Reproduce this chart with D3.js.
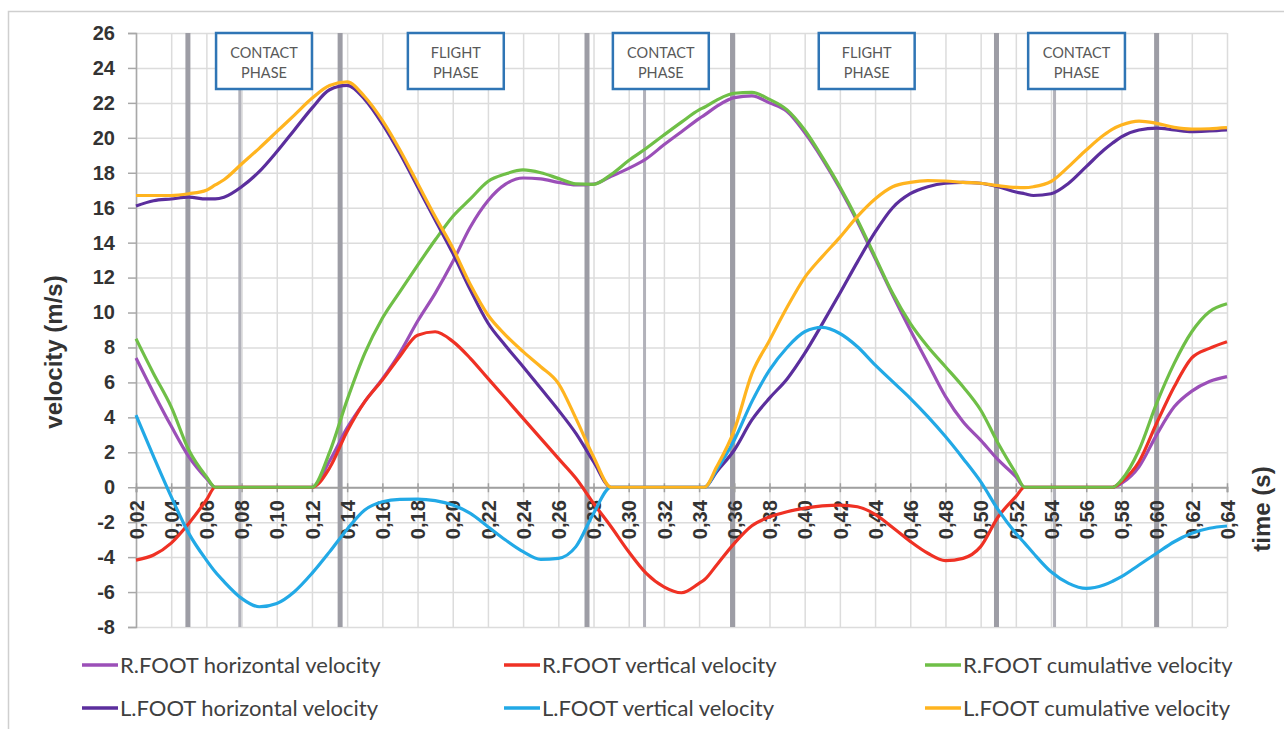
<!DOCTYPE html>
<html>
<head>
<meta charset="utf-8">
<script src="https://cdn.jsdelivr.net/npm/d3@7"></script>
<style>
  body { margin: 0; background: #fff; }
  svg { display: block; }
</style>
</head>
<body>
<svg id="chart" width="1284" height="729"></svg>
<script>
// Sample times (s)
const time = [0.02,0.03,0.04,0.05,0.06,0.065,0.07,0.08,0.09,0.10,
  0.11,0.12,0.13,0.14,0.15,0.16,0.17,0.18,0.19,0.20,
  0.21,0.22,0.23,0.24,0.25,0.26,0.27,0.28,0.29,0.30,
  0.31,0.32,0.33,0.34,0.343,0.35,0.36,0.37,0.38,0.39,
  0.40,0.41,0.42,0.43,0.44,0.45,0.46,0.47,0.48,0.49,
  0.50,0.51,0.52,0.525,0.53,0.54,0.55,0.56,0.57,0.575,
  0.58,0.59,0.60,0.61,0.62,0.63,0.64];

// Velocities (m/s)
const rFootHorizontal = [7.4,5.4,3.5,1.75,0.5,0,0,0,0,0,
  0,0,1.5,3.4,4.9,6.2,7.7,9.5,11.1,12.9,
  14.9,16.4,17.35,17.7,17.65,17.45,17.3,17.35,17.8,18.25,
  18.8,19.6,20.35,21.1,21.3,21.8,22.3,22.4,22.0,21.5,
  20.3,18.8,17.1,15.2,13.1,11.0,9.0,7.1,5.2,3.75,
  2.7,1.56,0.6,0,0,0,0,0,0,0,
  0.22,1.17,3.0,4.6,5.5,6.05,6.33];

const rFootVertical = [-4.17,-3.88,-3.2,-2.07,-0.73,0,0,0,0,0,
  0,0,1.1,3.2,4.9,6.14,7.5,8.7,8.9,8.35,
  7.38,6.23,5.09,3.94,2.8,1.65,0.51,-0.92,-2.26,-3.69,
  -4.93,-5.7,-6.04,-5.5,-5.3,-4.45,-3.21,-2.2,-1.7,-1.4,
  -1.2,-1.07,-1.02,-1.12,-1.55,-2.3,-3.1,-3.78,-4.2,-4.07,
  -3.4,-1.69,-0.54,0,0,0,0,0,0,0,
  0.32,1.46,3.66,5.75,7.4,7.95,8.33];

const rFootCumulative = [8.5,6.5,4.6,2.13,0.6,0,0,0,0,0,
  0,0,2.0,5.0,7.66,9.67,11.2,12.7,14.15,15.5,
  16.5,17.5,17.93,18.16,18.0,17.68,17.36,17.34,17.9,18.7,
  19.4,20.16,20.9,21.6,21.75,22.16,22.55,22.6,22.2,21.6,
  20.45,18.9,17.2,15.3,13.2,11.1,9.38,8.04,6.9,5.75,
  4.42,2.5,0.8,0,0,0,0,0,0,0,
  0.41,2.13,4.8,7.09,8.9,10.05,10.5];

const lFootHorizontal = [16.1,16.4,16.5,16.6,16.5,16.5,16.6,17.2,18.06,19.2,
  20.45,21.7,22.75,23.0,22.2,20.8,19.1,17.2,15.3,13.4,
  11.3,9.4,8.1,6.9,5.66,4.42,3.08,1.46,0,0,
  0,0,0,0,0,0.89,2.13,3.85,5.1,6.2,
  7.66,9.35,11.1,12.9,14.6,16.0,16.8,17.2,17.4,17.45,
  17.4,17.2,16.9,16.8,16.7,16.8,17.4,18.35,19.3,19.7,
  20.06,20.45,20.55,20.45,20.35,20.39,20.45];

const lFootVertical = [4.13,1.75,-0.54,-2.64,-4.17,-4.84,-5.4,-6.36,-6.84,-6.65,
  -5.98,-4.93,-3.7,-2.4,-1.3,-0.83,-0.69,-0.68,-0.77,-1.02,
  -1.5,-2.26,-3.02,-3.69,-4.13,-4.07,-3.4,-1.5,0,0,
  0,0,0,0,0,1.0,2.7,4.9,6.7,8.0,
  8.9,9.15,8.8,8.04,7.0,6.04,5.09,4.04,2.9,1.65,
  0.32,-1.3,-2.64,-3.2,-3.78,-4.84,-5.5,-5.79,-5.6,-5.38,
  -5.12,-4.45,-3.78,-3.12,-2.64,-2.35,-2.22];

const lFootCumulative = [16.7,16.7,16.7,16.8,17.0,17.3,17.6,18.5,19.4,20.35,
  21.3,22.26,23.0,23.2,22.35,21.0,19.3,17.4,15.5,13.7,
  11.6,9.86,8.71,7.76,6.9,5.95,3.94,1.75,0,0,
  0,0,0,0,0,1.17,3.27,6.5,8.4,10.3,
  12.0,13.2,14.3,15.5,16.5,17.2,17.45,17.55,17.53,17.45,
  17.4,17.26,17.16,17.15,17.2,17.5,18.35,19.3,20.16,20.5,
  20.73,20.96,20.83,20.6,20.5,20.52,20.58];

// Axis ticks
const yTickValues = [-8,-6,-4,-2,0,2,4,6,8,10,12,14,16,18,20,22,24,26];
const xTickValues = [0.02,0.04,0.06,0.08,0.10,0.12,0.14,0.16,0.18,0.20,
  0.22,0.24,0.26,0.28,0.30,0.32,0.34,0.36,0.38,0.40,
  0.42,0.44,0.46,0.48,0.50,0.52,0.54,0.56,0.58,0.60,0.62,0.64];

// Event markers (s): foot strike / toe-off and mid-contact
const eventTimes = [0.0495,0.136,0.2763,0.359,0.509,0.600];
const midContactTimes = [0.079,0.309,0.542];

// Phase annotations
const phaseNames = ["CONTACT","FLIGHT","CONTACT","FLIGHT","CONTACT"];
const phaseStart = [0.0655,0.1745,0.291,0.408,0.527];
const phaseEnd   = [0.12,0.229,0.3455,0.4625,0.582];

const series = [
  { name: "R.FOOT horizontal velocity", values: rFootHorizontal, color: "#9b4fb8" },
  { name: "R.FOOT vertical velocity",   values: rFootVertical,   color: "#ef3124" },
  { name: "R.FOOT cumulative velocity", values: rFootCumulative, color: "#6fbf47" },
  { name: "L.FOOT horizontal velocity", values: lFootHorizontal, color: "#5b2e9d" },
  { name: "L.FOOT vertical velocity",   values: lFootVertical,   color: "#22a9e6" },
  { name: "L.FOOT cumulative velocity", values: lFootCumulative, color: "#ffb41f" }
];

const svg = d3.select("#chart");
const plot = { left: 136, right: 1227, top: 33, bottom: 627 };

const x = d3.scaleLinear().domain([0.02, 0.64]).range([plot.left, plot.right]);
const y = d3.scaleLinear().domain([-8, 26]).range([plot.bottom, plot.top]);

// Outer frame
svg.append("path")
  .attr("d", "M8.5,729 V11.5 H1284")
  .attr("fill", "none").attr("stroke", "#cfcfcf").attr("stroke-width", 1.5);

// Gridlines
svg.append("g")
  .attr("transform", `translate(${plot.left},0)`)
  .call(d3.axisLeft(y).tickValues(yTickValues).tickSize(-(plot.right - plot.left)).tickFormat(""))
  .call(g => g.select(".domain").remove())
  .call(g => g.selectAll("line").attr("stroke", "#dcdcdc").attr("stroke-width", 1.5));

svg.append("g")
  .attr("transform", `translate(0,${plot.bottom})`)
  .call(d3.axisBottom(x).tickValues(xTickValues).tickSize(-(plot.bottom - plot.top)).tickFormat(""))
  .call(g => g.select(".domain").remove())
  .call(g => g.selectAll("line").attr("stroke", "#dcdcdc").attr("stroke-width", 1.5));

// Event markers
svg.append("g").selectAll("line").data(eventTimes).join("line")
  .attr("x1", d => x(d)).attr("x2", d => x(d))
  .attr("y1", plot.top).attr("y2", plot.bottom)
  .attr("stroke", "#9d9da5").attr("stroke-width", 5);

const boxTop = y(26);
const boxHeight = 56;
svg.append("g").selectAll("line").data(midContactTimes).join("line")
  .attr("x1", d => x(d)).attr("x2", d => x(d))
  .attr("y1", boxTop + boxHeight).attr("y2", plot.bottom)
  .attr("stroke", "#b2b2ba").attr("stroke-width", 3);

// Y axis
const yAxis = svg.append("g")
  .attr("transform", `translate(${plot.left},0)`)
  .call(d3.axisLeft(y).tickValues(yTickValues).tickSize(8).tickPadding(13).tickFormat(d => String(d)));
yAxis.select(".domain").attr("stroke", "#a8a8a8").attr("stroke-width", 1.5);
yAxis.selectAll("line").attr("stroke", "#a8a8a8").attr("stroke-width", 1.5);
yAxis.selectAll("text")
  .attr("font-family", "'Liberation Sans', Arial, sans-serif")
  .attr("font-size", 20).attr("font-weight", "bold").attr("fill", "#333");

// X axis on the zero line
const xAxis = svg.append("g")
  .attr("transform", `translate(0,${y(0)})`)
  .call(d3.axisBottom(x).tickValues(xTickValues).tickSize(5)
    .tickFormat(d => d3.format(".2f")(d).replace(".", ",")));
xAxis.select(".domain").attr("stroke", "#a0a0a0").attr("stroke-width", 2);
xAxis.selectAll("line").attr("stroke", "#a0a0a0").attr("stroke-width", 1.5).attr("y1", -4);
xAxis.selectAll("text")
  .attr("transform", "rotate(-90)")
  .attr("text-anchor", "end")
  .attr("x", -13).attr("y", 0).attr("dy", "0.36em")
  .attr("font-family", "'Liberation Sans', Arial, sans-serif")
  .attr("font-size", 20).attr("font-weight", "bold").attr("fill", "#333");

// Series lines (smoothed, no overshoot at the ground-contact plateaus)
const line = d3.line()
  .x((d, i) => x(time[i]))
  .y(d => y(d))
  .curve(d3.curveMonotoneX);

svg.append("g").selectAll("path").data(series).join("path")
  .attr("d", d => line(d.values))
  .attr("fill", "none")
  .attr("stroke", d => d.color)
  .attr("stroke-width", 3.2)
  .attr("stroke-linejoin", "round");

// Phase boxes
const phases = phaseNames.map((n, i) => ({ name: n, start: phaseStart[i], end: phaseEnd[i] }));
const pg = svg.append("g").selectAll("g").data(phases).join("g");
pg.append("rect")
  .attr("x", d => x(d.start)).attr("y", boxTop)
  .attr("width", d => x(d.end) - x(d.start)).attr("height", boxHeight)
  .attr("fill", "#fff").attr("stroke", "#2f75b5").attr("stroke-width", 2.5);
pg.append("text")
  .attr("x", d => (x(d.start) + x(d.end)) / 2).attr("y", boxTop + 19)
  .attr("text-anchor", "middle").attr("dominant-baseline", "central")
  .attr("font-family", "Lato, sans-serif").attr("font-size", 14.5).attr("fill", "#595959")
  .text(d => d.name);
pg.append("text")
  .attr("x", d => (x(d.start) + x(d.end)) / 2).attr("y", boxTop + 39)
  .attr("text-anchor", "middle").attr("dominant-baseline", "central")
  .attr("font-family", "Lato, sans-serif").attr("font-size", 14.5).attr("fill", "#595959")
  .text("PHASE");

// Axis titles
svg.append("text")
  .attr("transform", `translate(54,${352}) rotate(-90)`)
  .attr("text-anchor", "middle").attr("dy", "0.35em")
  .attr("font-family", "'Liberation Sans', Arial, sans-serif")
  .attr("font-size", 24).attr("font-weight", "bold").attr("fill", "#333")
  .text("velocity (m/s)");

svg.append("text")
  .attr("transform", `translate(1262,${509}) rotate(-90)`)
  .attr("text-anchor", "middle").attr("dy", "0.35em")
  .attr("font-family", "'Liberation Sans', Arial, sans-serif")
  .attr("font-size", 24).attr("font-weight", "bold").attr("fill", "#333")
  .text("time (s)");

// Legend
const legendCols = [82, 504, 925];
const legendRows = [665, 708];
const lg = svg.append("g").selectAll("g").data(series).join("g")
  .attr("transform", (d, i) => `translate(${legendCols[i % 3]},${legendRows[Math.floor(i / 3)]})`);
lg.append("line")
  .attr("x1", 0).attr("x2", 36).attr("y1", 0).attr("y2", 0)
  .attr("stroke", d => d.color).attr("stroke-width", 3.5);
lg.append("text")
  .attr("x", 38).attr("dy", "0.35em")
  .attr("font-family", "Lato, sans-serif").attr("font-size", 22).attr("fill", "#404040")
  .text(d => d.name);
</script>
</body>
</html>
